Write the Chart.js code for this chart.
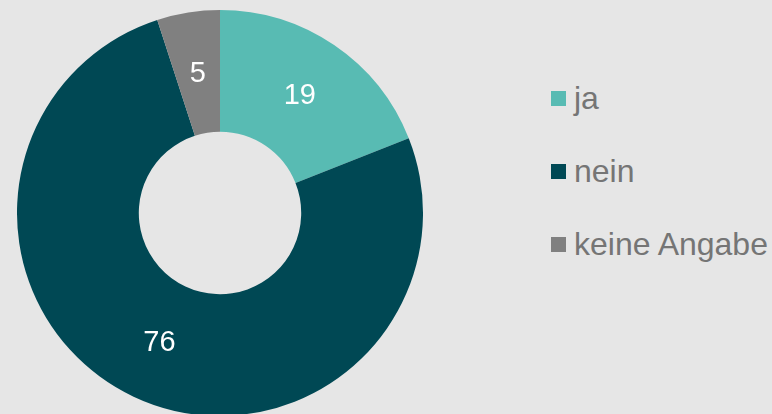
<!DOCTYPE html>
<html>
<head>
<meta charset="utf-8">
<script src="https://cdn.jsdelivr.net/npm/chart.js@4"></script>
<style>
  html, body { margin: 0; padding: 0; width: 772px; height: 414px; overflow: hidden; background: #e6e6e6; font-family: "Liberation Sans", Arial, sans-serif; }
  #wrap { position: absolute; left: 17px; top: 10px; width: 406px; height: 406px; }
  #legend { position: absolute; left: 551px; top: 0; }
  .item { position: absolute; left: 0; white-space: nowrap; display: flex; align-items: center; color: #757575; font-size: 32px; line-height: 32px; }
  .box { width: 15px; height: 15px; margin-right: 8px; display: inline-block; }
</style>
</head>
<body>
<div id="wrap"><canvas id="c" width="406" height="406"></canvas></div>
<div id="legend"></div>
<script>
const categories = ["ja", "nein", "keine Angabe"];
const values = [19, 76, 5];
const colors = ["#58bbb3", "#004854", "#808080"];

const legendY = [98, 171, 244];
const legend = document.getElementById('legend');
categories.forEach((c, i) => {
  const d = document.createElement('div');
  d.className = 'item';
  d.style.top = (legendY[i] - 16) + 'px';
  const b = document.createElement('span');
  b.className = 'box';
  b.style.background = colors[i];
  const t = document.createElement('span');
  t.textContent = c;
  d.appendChild(b); d.appendChild(t);
  legend.appendChild(d);
});

const labelPlugin = {
  id: 'sliceLabels',
  afterDatasetsDraw(chart) {
    const ctx = chart.ctx;
    const meta = chart.getDatasetMeta(0);
    ctx.save();
    ctx.fillStyle = '#ffffff';
    ctx.font = '29px "Liberation Sans", Arial, sans-serif';
    ctx.textAlign = 'center';
    ctx.textBaseline = 'middle';
    meta.data.forEach((arc, i) => {
      const p = arc.tooltipPosition();
      ctx.fillText(String(chart.data.datasets[0].data[i]), p.x, p.y + 1);
    });
    ctx.restore();
  }
};

new Chart(document.getElementById('c'), {
  type: 'doughnut',
  data: {
    labels: categories,
    datasets: [{ data: values, backgroundColor: colors, borderWidth: 0 }]
  },
  options: {
    responsive: false,
    maintainAspectRatio: false,
    animation: false,
    cutout: '40%',
    layout: { padding: 0 },
    plugins: { legend: { display: false }, tooltip: { enabled: false } }
  },
  plugins: [labelPlugin]
});
</script>
</body>
</html>
